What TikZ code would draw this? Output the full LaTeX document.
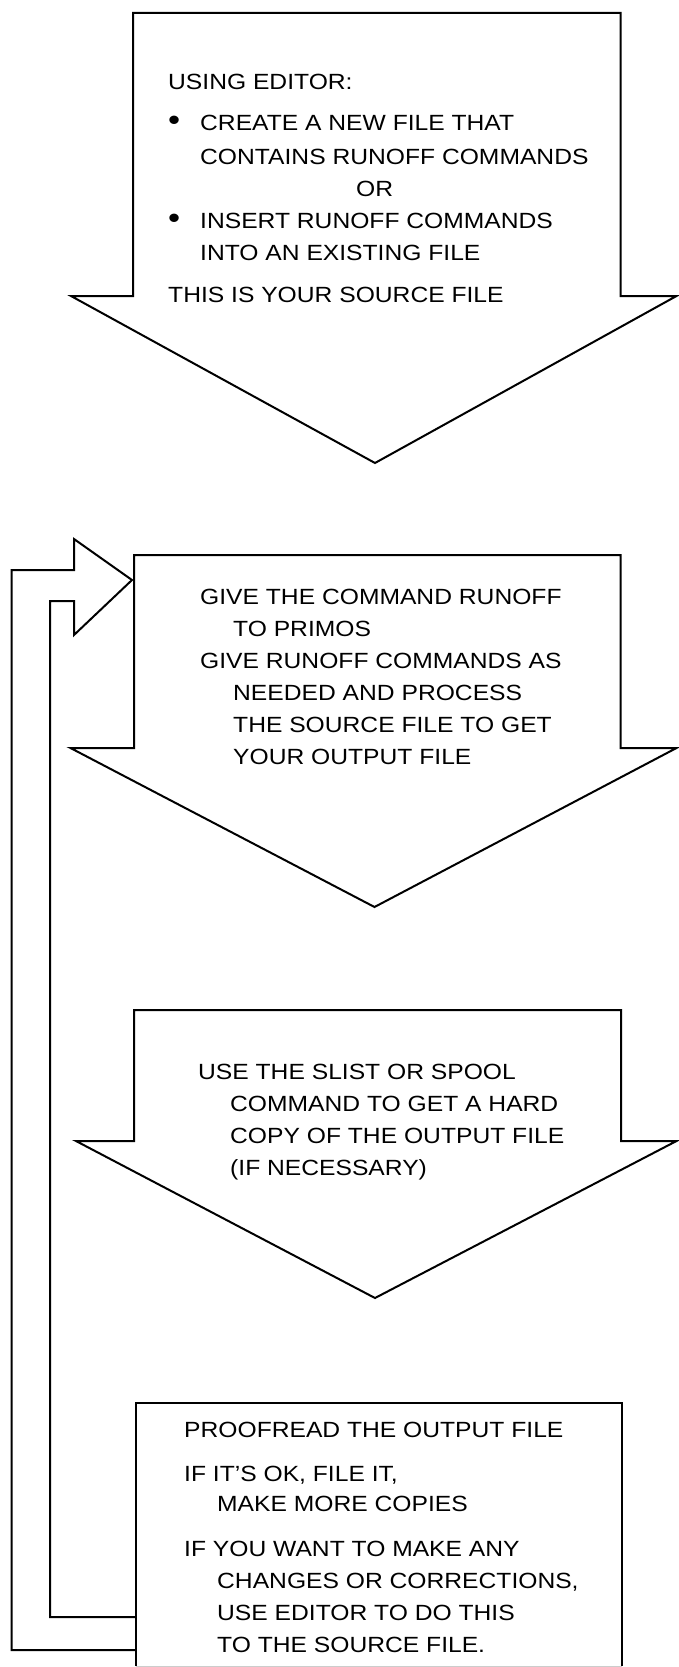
\documentclass[tikz,border=0pt]{standalone}
\usepackage{fontspec}
\setmainfont[FakeStretch=1.12]{Liberation Sans}
\usetikzlibrary{positioning}

\begin{document}
\begin{tikzpicture}[
    x=1pt, y=-1pt,
    block/.style={draw, line width=2pt, line join=miter, fill=white},
    txt/.style={anchor=north west, inner sep=0pt, align=left, font=\fontsize{22}{32}\selectfont}
]
\useasboundingbox (0,0) rectangle (678,1667);

% Step 1: Editor (block arrow)
\draw[block] (133,13) -- (620.5,13) -- (620.5,296) -- (676.5,296) -- (375,463) -- (71,296) -- (133,296) -- cycle;
\node[txt] (edit) at (168,74) {USING EDITOR:\\[9pt]%
\makebox[32pt][l]{\scalebox{1.4}{\textbullet}}CREATE A NEW FILE THAT\\[2pt]%
\hspace*{32pt}CONTAINS RUNOFF COMMANDS\\%
\hspace*{188pt}OR\\%
\makebox[32pt][l]{\scalebox{1.4}{\textbullet}}INSERT RUNOFF COMMANDS\\%
\hspace*{32pt}INTO AN EXISTING FILE\\[10pt]%
THIS IS YOUR SOURCE FILE};

% Step 2: Runoff
\draw[block] (134,555) -- (620.5,555) -- (620.5,748) -- (676.5,748) -- (374.5,907) -- (70.5,748) -- (134,748) -- cycle;
\node[txt] (runoff) at (200,589) {GIVE THE COMMAND RUNOFF\\%
\hspace*{33pt}TO PRIMOS\\%
GIVE RUNOFF COMMANDS AS\\%
\hspace*{33pt}NEEDED AND PROCESS\\%
\hspace*{33pt}THE SOURCE FILE TO GET\\%
\hspace*{33pt}YOUR OUTPUT FILE};

% Step 3: Hard copy
\draw[block] (134,1010) -- (621,1010) -- (621,1141) -- (676.5,1141) -- (375,1298) -- (76,1141) -- (134,1141) -- cycle;
\node[txt] (spool) at (198,1064) {USE THE SLIST OR SPOOL\\%
\hspace*{32pt}COMMAND TO GET A HARD\\%
\hspace*{32pt}COPY OF THE OUTPUT FILE\\%
\hspace*{32pt}(IF NECESSARY)};

% Step 4: Proofread (box, cut at the page bottom)
\draw[block] (136,1666) -- (136,1403) -- (622,1403) -- (622,1666);
\draw[gray!40, line width=1pt] (136,1666) -- (622,1666);
\node[txt] (proof) at (184,1422) {PROOFREAD THE OUTPUT FILE\\[12pt]%
IF IT'S OK, FILE IT,\\[-2pt]%
\hspace*{33pt}MAKE MORE COPIES\\[13pt]%
IF YOU WANT TO MAKE ANY\\%
\hspace*{33pt}CHANGES OR CORRECTIONS,\\%
\hspace*{33pt}USE EDITOR TO DO THIS\\%
\hspace*{33pt}TO THE SOURCE FILE.};

% Feedback loop back to step 2
\coordinate (loopTip) at (132,580);
\draw[block, fill=none] (136,1650) -- (11.5,1650) -- (11.5,570) -- (74,570) -- (74,539) -- (loopTip)
    -- (74,635) -- (74,601) -- (50,601) -- (50,1617) -- (136,1617);

\end{tikzpicture}
\end{document}
